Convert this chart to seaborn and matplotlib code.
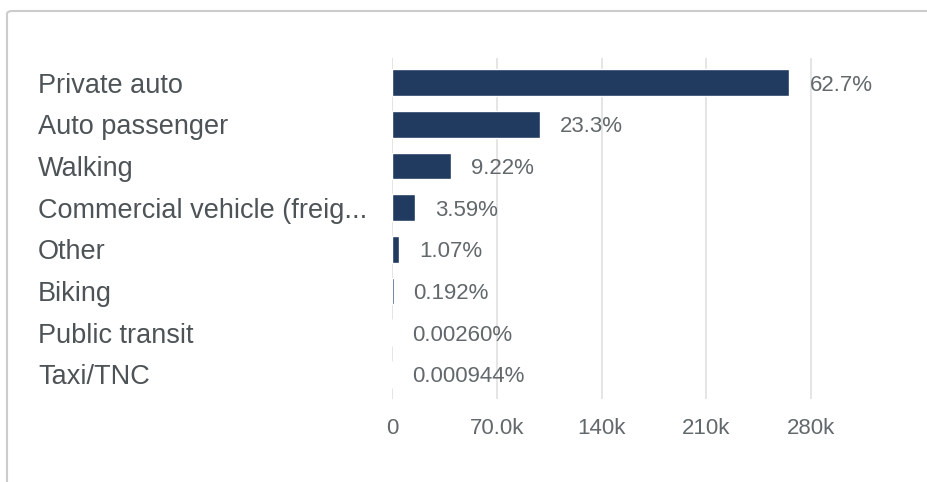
import pandas as pd
import matplotlib.pyplot as plt
import seaborn as sns
from matplotlib.patches import FancyBboxPatch

modes = ['Private auto', 'Auto passenger', 'Walking', 'Commercial vehicle (freig...',
         'Other', 'Biking', 'Public transit', 'Taxi/TNC']
trips = [265500, 98700, 39050, 15200, 4530, 813, 11, 4]
pct_labels = ['62.7%', '23.3%', '9.22%', '3.59%', '1.07%', '0.192%', '0.00260%', '0.000944%']
xticks = [0, 70000, 140000, 210000, 280000]
xtick_labels = ['0', '70.0k', '140k', '210k', '280k']

df = pd.DataFrame({'mode': modes, 'trips': trips})

sns.set_style('white')
plt.rcParams['font.family'] = ['Liberation Sans', 'DejaVu Sans']

fig = plt.figure(figsize=(9.28, 4.82), dpi=100)
W, H = 928, 482
ax = fig.add_axes([392.3 / W, 1 - 399 / H, (841 - 392.3) / W, (399 - 58) / H])

sns.barplot(data=df, x='trips', y='mode', orient='h', color='#203a60',
            width=0.64, saturation=1, ax=ax)

ax.set_xlim(0, 300000)
ax.set_ylim(7.59, -0.59)
ax.set_xticks(xticks)
ax.set_xticklabels(xtick_labels)
ax.grid(axis='x', color='#e0e0e0', linewidth=1.2)
ax.set_axisbelow(True)
for s in ax.spines.values():
    s.set_visible(False)
ax.set_xlabel('')
ax.set_ylabel('')

ax.tick_params(axis='x', length=0, pad=14, labelsize=16, labelcolor='#62686b')
ax.tick_params(axis='y', length=0, pad=(392.3 - 38) * 0.72, labelsize=19.5, labelcolor='#4d5356')
for lbl in ax.get_yticklabels():
    lbl.set_horizontalalignment('left')

# percentage labels to the right of each bar
for i, (v, t) in enumerate(zip(trips, pct_labels)):
    ax.annotate(t, (v, i), xytext=(14.4, 0), textcoords='offset points',
                ha='left', va='center_baseline', fontsize=16, color='#62686b',
                annotation_clip=False)

# card border around the chart
fig.patches.append(FancyBboxPatch((7 / W, -0.1), 1.2, 1 - 11 / H + 0.1,
                                  boxstyle='round,pad=0,rounding_size=0.006',
                                  transform=fig.transFigure, fill=False,
                                  edgecolor='#cccccc', linewidth=1.5))

fig.savefig('out.png', dpi=100)
